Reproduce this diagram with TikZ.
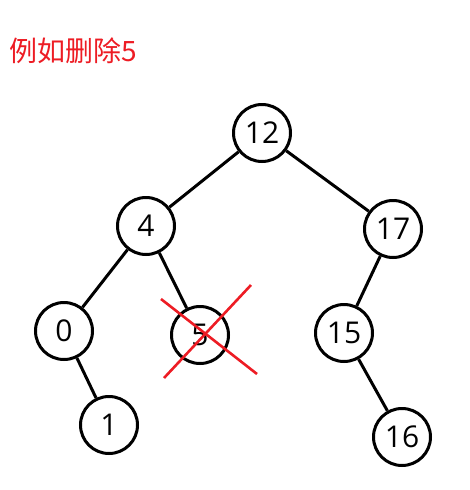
\documentclass[tikz,border=0pt]{standalone}
\usepackage{fontspec}
\setmainfont{Open Sans}
\newfontfamily\cjk{Noto Sans CJK SC}
\usepackage{tikz}
\usepackage{color}
\definecolor{paintRed}{RGB}{237,28,36}

\begin{document}
\begin{tikzpicture}
[x = 1pt, y = -1pt, line width = 3pt,
  vertex/.style = { draw, circle, inner sep = 0pt, minimum size = 57pt, font = \fontsize{30}{32}\selectfont },
  edge/.style   = { line width = 3pt },
  cross/.style  = { paintRed, line width = 2.6pt }
]

\useasboundingbox (0,0) rectangle (469,490);

% Title:
\node[anchor = west, inner sep = 0pt, text = paintRed, font = \cjk\fontsize{28}{30}\selectfont] (title) at (8,51) {例如删除5};

% Nodes of the tree:
\node[vertex] (n12) at (262,133) {12};
\node[vertex] (n4)  at (146,226) {4};
\node[vertex] (n17) at (393,229) {17};
\node[vertex] (n0)  at (64,331)  {0};
\node[vertex] (n5)  at (200,335) {5};
\node[vertex] (n15) at (344,333) {15};
\node[vertex] (n1)  at (109,425) {1};
\node[vertex] (n16) at (402,437) {16};

% Edges:
\draw[edge] (n12) -- (n4);
\draw[edge] (n12) -- (n17);
\draw[edge] (n4)  -- (n0);
\draw[edge] (n4)  -- (n5);
\draw[edge] (n0)  -- (n1);
\draw[edge] (n17) -- (n15);
\draw[edge] (n15) -- (n16);

% Red cross over 5:
\coordinate (crossA) at (161,299);
\coordinate (crossB) at (257,374);
\coordinate (crossC) at (164,378);
\coordinate (crossD) at (251,285);
\draw[cross] (crossA) -- (crossB);
\draw[cross] (crossC) -- (crossD);
\end{tikzpicture}
\end{document}
